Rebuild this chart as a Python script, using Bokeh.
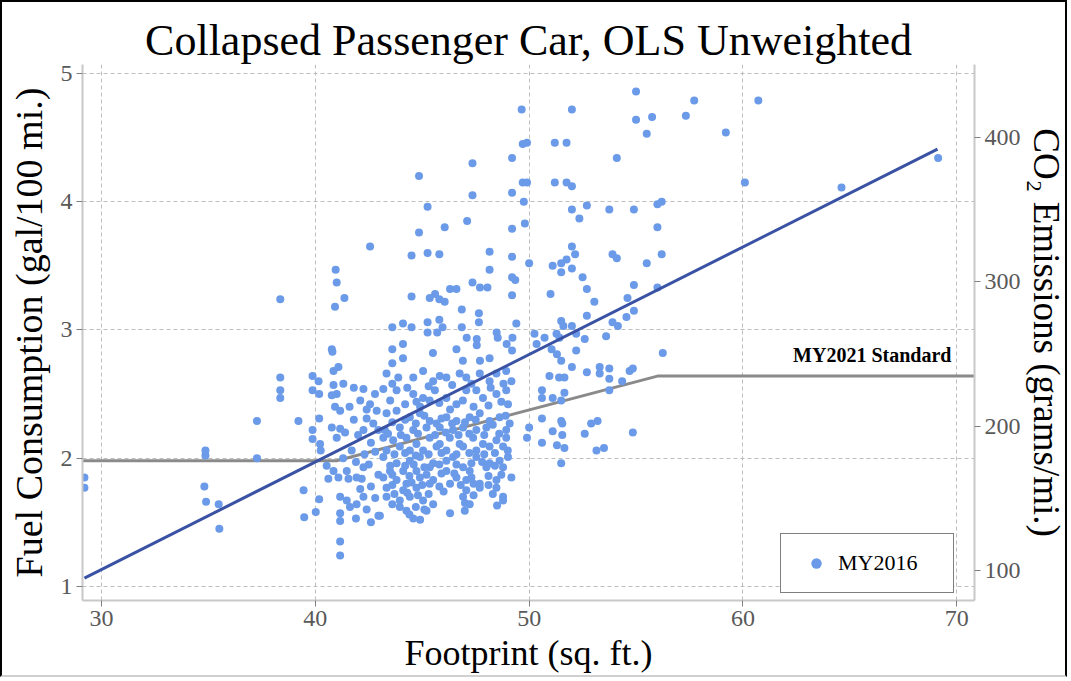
from bokeh.plotting import figure
from bokeh.models import Range1d, LinearAxis, FixedTicker, Legend, LegendItem, Label
from bokeh.embed import file_html
from bokeh.resources import INLINE

# ---- MY2016 passenger car models: footprint (sq. ft.) vs fuel consumption (gal/100 mi.) ----
fp_outer = [29.2, 29.2, 34.86, 34.86, 34.81, 34.89, 35.48, 35.51, 37.27, 37.27,
            38.36, 38.36, 38.36, 38.36, 39.21, 39.45, 39.48, 40.02, 40.18,
            39.87, 40.15, 39.87, 40.18, 40.18, 39.87, 39.87, 40.22, 40.25,
            40.95, 41.0, 41.36, 40.92, 40.77, 40.8, 42.56]
fc_outer = [1.85, 1.77, 2.06, 2.02, 1.78, 1.66, 1.64, 1.45, 2.29, 2.00,
            3.24, 2.63, 2.53, 2.47, 2.29, 1.75, 1.54, 1.58, 1.68,
            2.64, 2.60, 2.53, 2.50, 2.31, 2.22, 2.15, 2.11, 2.06,
            3.47, 3.37, 3.25, 3.18, 2.85, 2.83, 3.65]

fp_left_core = [40.85, 41.08, 40.85, 41.31, 41.0, 40.77, 40.92, 41.16, 40.77, 41.16, 41.39, 41.0,
                42.25, 42.79, 42.56, 42.87, 42.4, 42.71, 42.95, 42.25,
                40.53, 40.85, 40.61, 41.08, 41.47, 41.55, 41.93, 42.25, 42.17,
                41.16, 41.47, 41.93, 42.25, 41.62, 41.16, 41.16, 41.16, 41.16, 42.95, 42.95,
                41.8, 42.1, 41.6, 42.4, 41.8, 42.0, 42.6, 41.7, 42.3, 42.8, 41.3, 41.9, 42.5,
                42.6, 42.1, 42.8, 42.4, 41.9, 42.6]
fc_left_core = [2.68, 2.71, 2.57, 2.58, 2.50, 2.49, 2.40, 2.37, 2.24, 2.23, 2.20, 2.16,
                2.54, 2.50, 2.42, 2.37, 2.31, 2.27, 2.22, 2.22,
                1.94, 1.90, 1.84, 1.85, 1.90, 1.84, 1.85, 1.93, 1.84,
                1.70, 1.67, 1.64, 1.70, 1.62, 1.57, 1.51, 1.35, 1.24, 1.87, 1.55,
                2.55, 2.45, 2.40, 2.38, 2.30, 2.18, 2.12, 2.06, 2.03, 2.05, 2.00, 1.97, 1.95,
                1.78, 1.76, 1.69, 1.60, 1.53, 1.50]

fp_upper = [55.0, 52.0, 49.65, 55.0, 55.75, 55.5, 49.7, 49.9, 51.2, 51.75, 54.1, 49.2, 47.35,
            44.85, 49.7, 49.9, 51.2, 51.75, 52.0, 49.2, 47.35, 45.25, 49.75, 52.0, 52.7, 52.35,
            53.75, 54.9, 56.0, 56.2, 56.0, 47.1, 46.05, 44.85, 49.2, 49.8, 44.5, 45.25, 45.8,
            48.15, 49.2, 50.0, 52.0, 52.15, 51.75, 51.5, 51.1, 52.0, 51.5, 53.9, 54.1, 56.2,
            55.5, 48.15, 49.2, 49.35, 52.5, 47.35, 47.7, 48.05, 46.3, 46.6, 44.5, 45.35, 45.6,
            45.8, 46.05, 49.2, 51.0, 52.7, 53.05, 54.9, 54.6, 56.0, 46.85, 47.65, 47.65, 45.25,
            45.8, 45.95, 45.7, 45.25, 43.6, 44.1, 44.5, 46.85, 49.4, 51.5, 51.6, 52.0, 52.7,
            54.55, 54.9, 53.9, 54.15, 53.6, 52.6, 47.08, 47.55, 48.48, 48.53, 49.22, 50.25,
            50.72, 51.28, 51.42,
            57.72, 57.33, 59.2, 60.72, 60.09, 64.61, 69.13]
fc_upper = [4.86, 4.72, 4.72, 4.64, 4.66, 4.53, 4.45, 4.46, 4.46, 4.46, 4.34, 4.34, 4.30,
            4.20, 4.15, 4.15, 4.15, 4.15, 4.12, 4.07, 4.05, 3.96, 4.00, 3.94, 3.97, 3.87,
            3.94, 3.94, 3.98, 4.00, 3.80, 3.85, 3.80, 3.76, 3.79, 3.83, 3.58, 3.60, 3.59,
            3.61, 3.57, 3.52, 3.65, 3.59, 3.55, 3.52, 3.50, 3.48, 3.45, 3.59, 3.56, 3.59,
            3.52, 3.47, 3.41, 3.39, 3.41, 3.37, 3.33, 3.33, 3.32, 3.32, 3.26, 3.25, 3.28,
            3.24, 3.22, 3.27, 3.28, 3.32, 3.22, 3.35, 3.25, 3.33, 3.16, 3.13, 3.06, 3.06,
            3.08, 3.02, 2.98, 2.98, 3.02, 3.05, 3.02, 3.02, 3.05, 3.07, 3.03, 3.03, 3.11,
            3.10, 3.15, 3.06, 3.03, 2.95, 2.93, 2.94, 2.93, 2.98, 2.94, 2.94, 2.97,
            2.94, 2.97, 2.94,
            4.79, 4.67, 4.54, 4.79, 4.15, 4.11, 4.34]

fp_right = [52.2, 56.25, 43.6, 44.1, 43.6, 44.1, 45.5, 46.6, 47.55, 46.9, 47.7, 48.15, 48.95,
            49.2, 50.35, 51.05, 51.3, 51.5, 52.2, 53.3, 53.75, 53.3, 53.75, 54.7, 54.85, 54.35,
            53.75, 52.7, 52.0, 50.95, 51.4, 51.65, 50.6, 51.1, 51.65, 51.5, 50.6,
            50.6, 51.5, 51.55, 51.1, 51.55, 51.3, 51.65, 50.6, 49.9, 50.0, 51.5, 52.6, 52.9,
            53.2, 53.15, 53.5, 54.85]
fc_right = [2.97, 2.82, 2.85, 2.89, 2.74, 2.78, 2.82, 2.85, 2.88, 2.76, 2.76, 2.78, 2.89,
            2.84, 2.89, 2.85, 2.81, 2.76, 2.84, 2.71, 2.70, 2.66, 2.62, 2.68, 2.70, 2.60,
            2.53, 2.67, 2.71, 2.64, 2.63, 2.63, 2.53, 2.47, 2.51, 2.45, 2.47,
            2.31, 2.29, 2.27, 2.21, 2.18, 2.10, 2.08, 2.12, 2.16, 2.24, 1.96, 2.19, 2.27,
            2.29, 2.06, 2.08, 2.20]

fp_core = [43.33, 43.88, 44.58, 45.04, 45.51, 45.82, 46.13, 46.75, 47.06, 47.69, 48.15, 48.47, 48.93, 49.17,
           43.18, 43.8, 44.58, 45.04, 45.59, 46.13, 46.6, 47.06, 47.53, 47.84, 48.47, 48.93, 49.01, 44.73, 45.35,
           43.33, 43.8, 44.42, 44.89, 45.35, 45.67, 46.13, 46.6, 47.22, 47.69, 48.15, 48.62, 49.09,
           43.25, 43.95, 44.58, 45.2, 45.82, 46.44, 46.91, 47.53, 48.0, 48.93,
           43.18, 43.64, 44.26, 44.73, 45.35, 45.82, 46.29, 46.75, 47.38, 47.84, 48.47, 48.93,
           43.33, 43.95, 44.42, 45.04, 45.67, 46.13, 46.91, 47.53, 48.15, 48.78,
           43.18, 43.8, 44.42, 44.89, 45.51, 46.13, 46.44, 46.91, 47.53, 48.15, 48.62, 49.01,
           43.49, 44.11, 44.73, 45.35, 46.13, 47.22, 48.0, 48.78, 49.17,
           43.18, 43.8, 44.26, 44.89, 45.51, 46.6, 47.06, 47.69, 48.47,
           43.33, 44.11, 44.73, 45.35, 47.06, 47.69, 48.47,
           43.33, 43.95, 44.42, 45.04, 45.51, 46.91, 47.22, 48.78, 48.78,
           43.02, 44.58, 45.2, 46.99, 43.95, 44.26]
fc_core = [2.66, 2.63, 2.63, 2.68, 2.60, 2.64, 2.63, 2.66, 2.63, 2.66, 2.60, 2.66, 2.68, 2.60,
           2.54, 2.53, 2.50, 2.47, 2.53, 2.47, 2.42, 2.53, 2.53, 2.47, 2.50, 2.53, 2.42, 2.44, 2.45,
           2.35, 2.37, 2.32, 2.35, 2.29, 2.27, 2.32, 2.29, 2.32, 2.35, 2.29, 2.32, 2.27,
           2.22, 2.24, 2.22, 2.24, 2.24, 2.22, 2.24, 2.22, 2.24, 2.22,
           2.16, 2.14, 2.16, 2.11, 2.16, 2.11, 2.16, 2.11, 2.16, 2.11, 2.14, 2.16,
           2.06, 2.09, 2.06, 2.06, 2.09, 2.06, 2.09, 2.06, 2.09, 2.09,
           2.01, 1.96, 1.98, 2.01, 1.96, 1.98, 2.01, 1.93, 2.01, 1.96, 1.98, 2.01,
           1.90, 1.90, 1.90, 1.93, 1.90, 1.90, 1.93, 1.93, 1.85,
           1.85, 1.83, 1.80, 1.85, 1.83, 1.85, 1.83, 1.80, 1.83,
           1.77, 1.75, 1.77, 1.80, 1.75, 1.77, 1.77,
           1.70, 1.67, 1.70, 1.67, 1.64, 1.70, 1.64, 1.70, 1.67,
           1.55, 1.53, 1.59, 1.59, 1.62, 1.59]

fp_core_b = [43.6, 44.3, 45.3, 46.4, 47.3, 48.2, 48.8,
             43.5, 44.2, 44.9, 45.8, 46.3, 46.9, 47.4, 48.1, 48.7,
             43.6, 44.2, 44.7, 45.1, 45.9, 46.4, 47.0, 47.5, 48.3, 48.9,
             43.4, 44.0, 44.8, 45.6, 46.1, 46.7, 47.2, 47.9, 48.6,
             43.7, 44.2, 44.7, 45.3, 45.9, 46.6, 47.2, 47.9, 48.4, 49.0,
             43.5, 44.2, 44.6, 45.1, 45.8, 46.6, 47.3, 47.8, 48.4,
             43.6, 44.4, 45.2, 45.9, 46.5, 47.3, 48.1, 48.7,
             43.6, 44.5, 45.0, 45.8, 46.3, 46.8, 47.4, 48.1,
             43.7, 44.3, 44.8, 45.3, 46.0, 47.4, 48.3,
             43.6, 44.7, 45.1, 47.0, 48.5,
             44.4, 44.9, 46.3]
fc_core_b = [2.58, 2.55, 2.56, 2.57, 2.58, 2.55, 2.58,
             2.45, 2.42, 2.40, 2.43, 2.38, 2.45, 2.40, 2.41, 2.44,
             2.28, 2.30, 2.27, 2.33, 2.31, 2.27, 2.28, 2.30, 2.26, 2.33,
             2.19, 2.18, 2.19, 2.18, 2.20, 2.18, 2.19, 2.18, 2.19,
             2.03, 2.04, 2.02, 2.03, 2.04, 2.03, 2.04, 2.03, 2.04, 2.06,
             1.94, 1.94, 1.95, 1.93, 1.95, 1.95, 1.96, 1.97, 1.94,
             1.87, 1.86, 1.87, 1.88, 1.88, 1.85, 1.86, 1.87,
             1.79, 1.81, 1.79, 1.78, 1.80, 1.79, 1.80, 1.79,
             1.72, 1.73, 1.71, 1.72, 1.74, 1.71, 1.72,
             1.64, 1.62, 1.60, 1.65, 1.63,
             1.56, 1.52, 1.57]

footprint = fp_outer + fp_left_core + fp_upper + fp_right + fp_core + fp_core_b
fuel = fc_outer + fc_left_core + fc_upper + fc_right + fc_core + fc_core_b

# OLS (unweighted) fit endpoints over the data's footprint span
ols_fp = [29.2, 69.1]
ols_fuel = [1.065, 4.41]

# MY2021 passenger car standard curve: flat below 41 and above 56 sq. ft.
std_fp = [29.0, 41.0, 56.0, 71.0]
std_fuel = [1.98, 1.98, 2.64, 2.64]

x_ticks = [30, 40, 50, 60, 70]
y_ticks = [1, 2, 3, 4, 5]
co2_ticks = [100, 200, 300, 400]
CO2_PER_FUEL = 88.87  # grams CO2 per mile for each gal/100 mi

X_LO, X_HI = 29.11, 70.83
Y_LO, Y_HI = 0.89, 5.07

SERIF = "Liberation Serif"
GRID = "#bdbdbd"
AXIS = "#c8c8c8"
TICK_TXT = "#595959"

p = figure(width=1067, height=677,
           x_range=Range1d(X_LO, X_HI), y_range=Range1d(Y_LO, Y_HI),
           output_backend="svg", toolbar_location=None,
           min_border_left=80, min_border_right=93,
           min_border_top=62, min_border_bottom=79,
           title="Collapsed Passenger Car, OLS Unweighted")
p.styles = {"border-left": "2px solid black", "border-top": "2px solid black",
            "border-right": "2px solid black", "border-bottom": "2px solid #d0d0d0"}
p.background_fill_color = "white"
p.border_fill_color = "white"
p.outline_line_color = None

p.title.text_font = SERIF
p.title.text_font_size = "44px"
p.title.text_font_style = "normal"
p.title.text_color = "black"
p.title.align = "center"
p.title.standoff = 0

bottom_axis = p.below[0]
left_axis = p.left[0]
bottom_axis.ticker = FixedTicker(ticks=x_ticks)
left_axis.ticker = FixedTicker(ticks=y_ticks)
bottom_axis.axis_label = "Footprint (sq. ft.)"
left_axis.axis_label = "Fuel Consumption (gal/100 mi.)"

p.extra_y_ranges = {"co2": Range1d(Y_LO * CO2_PER_FUEL, Y_HI * CO2_PER_FUEL)}
right_axis = LinearAxis(y_range_name="co2", ticker=FixedTicker(ticks=co2_ticks),
                        axis_label="CO\u2082 Emissions (grams/mi.)")
p.add_layout(right_axis, "right")

for ax in (bottom_axis, left_axis, right_axis):
    ax.axis_line_color = AXIS
    ax.axis_line_width = 2
    ax.major_tick_line_color = "#7f7f7f"
    ax.major_tick_out = 6
    ax.major_tick_in = 0
    ax.minor_tick_line_color = None
    ax.major_label_text_font = SERIF
    ax.major_label_text_font_size = "24px"
    ax.major_label_text_color = TICK_TXT
    ax.major_label_standoff = 4
    ax.axis_label_text_font = SERIF
    ax.axis_label_text_font_style = "normal"
    ax.axis_label_text_color = "black"
    ax.axis_label_standoff = 4

bottom_axis.axis_label_text_font_size = "36px"
left_axis.axis_label_text_font_size = "38px"
left_axis.axis_label_standoff = 8
right_axis.axis_label_text_font_size = "37px"
right_axis.axis_label_standoff = 2

for g in (p.xgrid, p.ygrid):
    g.grid_line_color = GRID
    g.grid_line_dash = "4 3"
    g.grid_line_width = 1

p.line(std_fp, std_fuel, line_color="#8a8a8a", line_width=3)
pts = p.scatter(footprint, fuel, size=8, fill_color="#6a9ae8", line_color=None, marker="circle")
p.line(ols_fp, ols_fuel, line_color="#3a52a3", line_width=3)

p.add_layout(Label(x=69.75, y=2.72, text="MY2021 Standard", text_align="right",
                   text_baseline="bottom", text_font=SERIF, text_font_size="20px",
                   text_font_style="bold", text_color="black"))

legend = Legend(items=[LegendItem(label="MY2016", renderers=[pts])],
                location=(698, 7), orientation="vertical",
                border_line_color="black", border_line_width=1.5,
                background_fill_color="white", background_fill_alpha=1,
                padding=16, margin=0, spacing=0,
                glyph_width=38, glyph_height=26, label_standoff=3, label_width=99,
                label_text_font=SERIF, label_text_font_size="22px", label_text_color="black")
p.add_layout(legend)

open("out.html", "w").write(file_html(p, INLINE))
